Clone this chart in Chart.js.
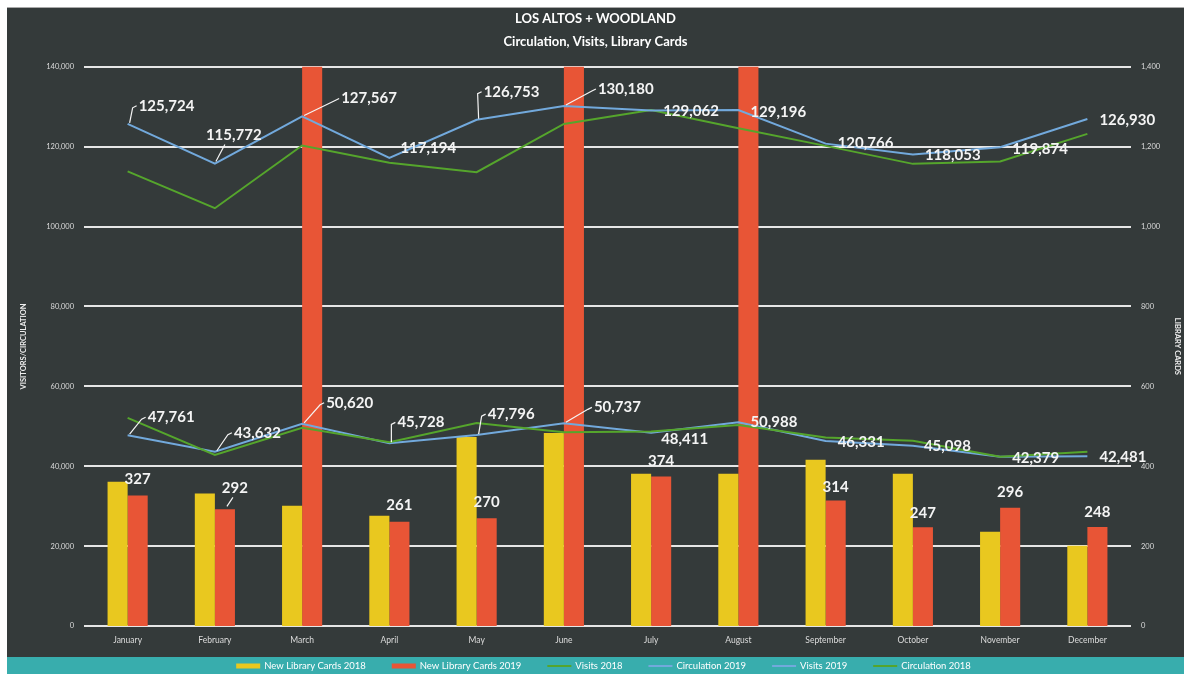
<!DOCTYPE html>
<html>
<head>
<meta charset="utf-8">
<script src="https://cdn.jsdelivr.net/npm/chart.js@4.4.1/dist/chart.umd.min.js"></script>
<style>
  html, body { margin: 0; padding: 0; background: #fff; }
  #wrap { position: absolute; left: 7px; top: 7px; width: 1177px; height: 667px; }
  canvas { display: block; }
</style>
</head>
<body>
<div id="wrap"><canvas id="chartLib"></canvas></div>
<script>
// data
const months = ['January', 'February', 'March', 'April', 'May', 'June', 'July', 'August', 'September', 'October', 'November', 'December']
const cards2018 = [361, 332, 301, 276, 473, 483, 381, 381, 416, 381, 236, 201]
// March, June, August run off the top of the axis in the original
const cards2019 = [327, 292, 1500, 261, 270, 1500, 374, 1500, 314, 247, 296, 248]
const visits2018 = [52100, 42800, 49600, 46000, 50800, 48500, 48700, 50300, 47200, 46400, 42400, 43650]
const circulation2019 = [125724, 115772, 127567, 117194, 126753, 130180, 129062, 129196, 120766, 118053, 119874, 126930]
const visits2019 = [47761, 43632, 50620, 45728, 47796, 50737, 48411, 50988, 46331, 45098, 42379, 42481]
const circulation2018 = [113800, 104600, 120300, 116000, 113600, 125700, 129200, 124600, 120200, 115700, 116300, 123200]

const leftTicks = { min: 0, max: 140000, step: 20000 }
const rightTicks = { min: 0, max: 1400, step: 200 }

const YELLOW = '#e9c81f'
const RED = '#e85536'
const GREEN = '#55a52c'
const BLUE = '#72a9dc'
const BG = '#343a3a'
const TEAL = '#38adad'
const FONT = 'Lato, "Open Sans", sans-serif'

// label nudges (px) relative to the point, text left aligned
const labelNudge = {
  'Circulation 2019': [[11,-18],[-9,-28],[39,-18],[11,-10],[7,-28],[34,-17],[12,1],[12,2],[12,0],[12,1],[12,2],[12,1]],
  'Visits 2019': [[20,-18],[19,-19],[24,-21],[8,-21],[11,-21],[30,-16],[10,7],[12,0],[12,1],[11,0],[12,1],[12,1]],
  'New Library Cards 2019': [[0,-16],[10,-21],[0,0],[0,-17],[0,-16],[0,0],[0,-15],[0,0],[0,-13],[0,-14],[0,-16],[0,-15]]
}

const bgPlugin = {
  id: 'bgPlugin',
  beforeDraw(chart) {
    const c = chart.ctx
    c.save()
    c.fillStyle = BG
    c.fillRect(0, 0, chart.width, chart.height)
    c.fillStyle = '#a9a9a9'
    c.fillRect(0, 0, chart.width, 1)
    c.restore()
  }
}

const valueLabels = {
  id: 'valueLabels',
  afterDatasetsDraw(chart) {
    const c = chart.ctx
    c.save()
    c.font = 'bold 15px ' + FONT
    c.fillStyle = '#f4f4f4'
    c.strokeStyle = '#f4f4f4'
    c.lineWidth = 1.2
    c.textBaseline = 'middle'
    chart.data.datasets.forEach((ds, di) => {
      const nudge = labelNudge[ds.label]
      if (!nudge) return
      const meta = chart.getDatasetMeta(di)
      const scale = chart.scales[ds.yAxisID]
      meta.data.forEach((el, i) => {
        const v = ds.data[i]
        if (v > scale.max) return
        const txt = v.toLocaleString('en-US')
        const [dx, dy] = nudge[i]
        if (ds.type === 'bar') {
          c.textAlign = 'center'
          c.fillText(txt, el.x + dx, el.y + dy)
          if (dx > 5) {
            c.beginPath()
            c.moveTo(el.x + 2, el.y - 3)
            c.lineTo(el.x + 8, el.y + dy + 9)
            c.stroke()
          }
        } else {
          c.textAlign = 'left'
          const lx = el.x + dx, ly = el.y + dy
          c.fillText(txt, lx, ly)
          if (Math.abs(dy) > 15 || dx > 20) {
            c.beginPath()
            if (dx < 0) {
              c.moveTo(el.x + 1, el.y - 2)
              c.lineTo(el.x + 10, ly + 9)
            } else {
              c.moveTo(el.x + 2, el.y - 1)
              c.lineTo(lx - 6, ly + 2)
              c.lineTo(lx - 2, ly)
            }
            c.stroke()
          }
        }
      })
    })
    c.restore()
  }
}

// legend drawn in the teal strip along the bottom
const stripLegend = {
  id: 'stripLegend',
  afterDraw(chart) {
    const c = chart.ctx
    const h = 17
    const top = chart.height - h
    c.save()
    c.fillStyle = TEAL
    c.fillRect(0, top, chart.width, h)
    c.font = '9.5px ' + FONT
    c.textBaseline = 'middle'
    c.textAlign = 'left'
    const items = chart.data.datasets.map(ds => ({ text: ds.label, color: ds.borderColor, bar: ds.type === 'bar' }))
    const boxW = 24, gap = 4, spacing = 26
    let total = 0
    items.forEach(it => { it.w = boxW + gap + c.measureText(it.text).width; total += it.w })
    total += spacing * (items.length - 1)
    const area = chart.chartArea
    let x = (area.left + area.right) / 2 - 4 - total / 2
    const cy = top + h / 2 + 0.5
    items.forEach(it => {
      c.fillStyle = it.color
      if (it.bar) c.fillRect(x, cy - 2.5, boxW, 5)
      else c.fillRect(x, cy - 1, boxW, 2)
      c.fillStyle = '#ffffff'
      c.fillText(it.text, x + boxW + gap, cy)
      x += it.w + spacing
    })
    c.restore()
  }
}

const ctx = document.getElementById('chartLib')

const chartLib = new Chart(ctx, {
  type: 'bar',
  data: {
    labels: months,
    datasets: [
      { type: 'bar', label: 'New Library Cards 2018', data: cards2018, yAxisID: 'y1', backgroundColor: YELLOW, borderColor: YELLOW, order: 1, clip: 0 },
      { type: 'bar', label: 'New Library Cards 2019', data: cards2019, yAxisID: 'y1', backgroundColor: RED, borderColor: RED, order: 1, clip: 0 },
      { type: 'line', label: 'Visits 2018', data: visits2018, yAxisID: 'y', borderColor: GREEN, backgroundColor: GREEN, borderWidth: 2, pointRadius: 0, tension: 0, order: 0 },
      { type: 'line', label: 'Circulation 2019', data: circulation2019, yAxisID: 'y', borderColor: BLUE, backgroundColor: BLUE, borderWidth: 2, pointRadius: 0, tension: 0, order: 0 },
      { type: 'line', label: 'Visits 2019', data: visits2019, yAxisID: 'y', borderColor: BLUE, backgroundColor: BLUE, borderWidth: 2, pointRadius: 0, tension: 0, order: 0 },
      { type: 'line', label: 'Circulation 2018', data: circulation2018, yAxisID: 'y', borderColor: GREEN, backgroundColor: GREEN, borderWidth: 2, pointRadius: 0, tension: 0, order: 0 }
    ]
  },
  options: {
    responsive: true,
    maintainAspectRatio: false,
    animation: false,
    datasets: {
      bar: { barPercentage: 1, categoryPercentage: 0.46 }
    },
    layout: { padding: { top: 0, left: 0, right: 0, bottom: 17 } },
    plugins: {
      legend: { display: false },
      tooltip: { enabled: false },
      title: {
        display: true,
        text: ['LOS ALTOS + WOODLAND', 'Circulation, Visits, Library Cards'],
        color: '#ffffff',
        font: { family: FONT, size: 13, weight: 'bold', lineHeight: 1.8 },
        padding: { top: 0, bottom: 13 }
      }
    },
    scales: {
      x: {
        grid: { display: false, drawTicks: false },
        border: { display: false },
        ticks: { color: '#dcdcdc', font: { family: FONT, size: 8.5 }, padding: 9, maxRotation: 0, autoSkip: false },
        afterFit(scale) { scale.height = 31 }
      },
      y: {
        position: 'left',
        min: leftTicks.min,
        max: leftTicks.max,
        grid: { color: '#e6e6e6', lineWidth: 2, drawTicks: false },
        border: { display: false },
        ticks: { stepSize: leftTicks.step, color: '#dcdcdc', font: { family: FONT, size: 7.5 }, padding: 10 },
        title: { display: true, text: 'VISITORS/CIRCULATION', color: '#eeeeee', font: { family: FONT, size: 7.5, weight: 'bold', lineHeight: 1.2 }, padding: { top: 12.5, bottom: 0 } },
        afterFit(scale) { scale.width = 77 }
      },
      y1: {
        position: 'right',
        min: rightTicks.min,
        max: rightTicks.max,
        grid: { display: false, drawTicks: false },
        border: { display: false },
        ticks: { stepSize: rightTicks.step, color: '#dcdcdc', font: { family: FONT, size: 7.5 }, padding: 10 },
        title: { display: true, text: 'LIBRARY CARDS', color: '#eeeeee', font: { family: FONT, size: 7.5, weight: 'bold', lineHeight: 1.2 }, padding: { top: 2.5, bottom: 0 } },
        afterFit(scale) { scale.width = 53 }
      }
    }
  },
  plugins: [bgPlugin, valueLabels, stripLegend]
})
</script>
</body>
</html>
